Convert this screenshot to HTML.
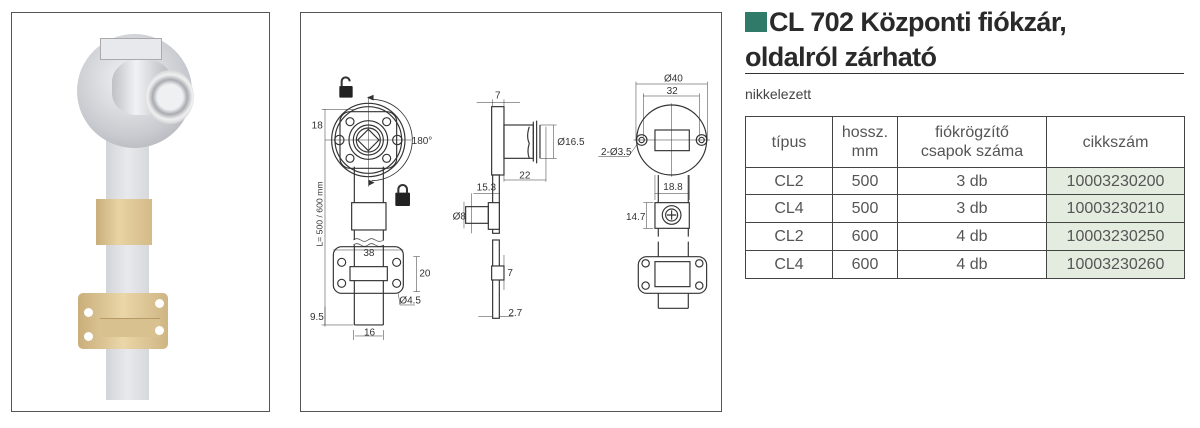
<!DOCTYPE html>
<html><head><meta charset="utf-8"><style>
body{margin:0;width:1200px;height:428px;background:#fff;position:relative;overflow:hidden;font-family:"Liberation Sans",sans-serif;color:#333}
.box{position:absolute;border:1px solid #555;background:#fff}
.abs{position:absolute}
table{border-collapse:collapse;position:absolute;left:745px;top:116px;font-size:16px;color:#555}
td{border:1.5px solid #444;text-align:center;padding:0;line-height:19px}
td.g{background:#e3ecdf}
</style></head><body>
<div class="box" style="left:11px;top:12px;width:257px;height:398px"></div>
<!-- photo -->
<div class="abs" style="left:106px;top:130px;width:43px;height:270px;background:linear-gradient(90deg,#d3d5da,#e8e9ec 50%,#d6d8dc)"></div>
<div class="abs" style="left:77px;top:34px;width:115px;height:114px;border-radius:50%;background:radial-gradient(circle at 45% 40%,#f2f3f5,#c9cbd0 60%,#a4a6ab)"></div>
<div class="abs" style="left:100px;top:38px;width:60px;height:20px;background:#e8e9ec;border:1px solid #aaa"></div>
<div class="abs" style="left:112px;top:60px;width:60px;height:55px;border-radius:40%;background:linear-gradient(90deg,#bfc1c6,#f2f2f4 40%,#b5b7bc)"></div>
<div class="abs" style="left:146px;top:70px;width:48px;height:54px;border-radius:50%;background:radial-gradient(circle,#eef0f2 35%,#a9abb0 48%,#f0f0f0 62%,#9c9ea3)"></div>
<div class="abs" style="left:96px;top:199px;width:56px;height:46px;background:linear-gradient(90deg,#c9ae7a,#e8d3a4 40%,#d4bb88)"></div>
<div class="abs" style="left:78px;top:293px;width:90px;height:56px;border-radius:5px;background:linear-gradient(90deg,#c9ae7a,#ead6a8 50%,#cfb583)"></div>
<div class="abs" style="left:100px;top:318px;width:60px;height:18px;background:#d9c18f;border-top:1px solid #b59a66"></div>
<div class="abs" style="left:84px;top:308px;width:9px;height:9px;border-radius:50%;background:#fff"></div>
<div class="abs" style="left:84px;top:332px;width:9px;height:9px;border-radius:50%;background:#fff"></div>
<div class="abs" style="left:155px;top:299px;width:9px;height:9px;border-radius:50%;background:#fff"></div>
<div class="abs" style="left:155px;top:326px;width:9px;height:9px;border-radius:50%;background:#fff"></div>

<div class="box" style="left:300px;top:12px;width:420px;height:398px"></div>
<svg class="abs" style="left:0;top:0" width="1200" height="428">
<g transform="translate(300,60) scale(0.3333)" fill="none" stroke="#333" stroke-width="3.5" font-family="Liberation Sans,sans-serif" font-size="30">
<!-- left view -->
<circle cx="205" cy="240" r="110"/><circle cx="205" cy="240" r="100"/>
<rect x="120" y="155" width="170" height="170" rx="30"/>
<circle cx="205" cy="240" r="58"/><circle cx="205" cy="240" r="45"/><circle cx="205" cy="240" r="36"/>
<polygon points="205,208 237,240 205,272 173,240"/>
<circle cx="150" cy="185" r="12"/><circle cx="260" cy="185" r="12"/><circle cx="150" cy="295" r="12"/><circle cx="260" cy="295" r="12"/>
<circle cx="118" cy="240" r="14"/><circle cx="292" cy="240" r="14"/>
<path d="M163 320V540M250 320V540M163 555V795M250 555V795M163 795H250"/>
<path d="M160 540q10 -8 22 0t22 0t22 0t26 0M160 555q10 -8 22 0t22 0t22 0t26 0" stroke-width="2"/>
<rect x="155" y="428" width="103" height="82" fill="#fff"/>
<rect x="100" y="560" width="210" height="140" rx="25" fill="#fff"/>
<circle cx="125" cy="607" r="12"/><circle cx="290" cy="607" r="12"/><circle cx="125" cy="670" r="12"/><circle cx="290" cy="670" r="12"/>
<rect x="150" y="620" width="112" height="42" fill="#fff"/>
<path d="M163 560V620M250 560V620M163 662V700M250 662V700"/>
<path d="M205 110V380M75 240H335" stroke-width="1.5"/>
<path d="M75 148V795M65 148H160M65 795H160M75 740V800M160 810V840M250 810V840M165 828H248M100 570H310M350 590V695M340 590H360M340 695H360M295 700L300 735H345" stroke-width="1.5"/>
<path d="M215 118A122 122 0 0 1 215 362" stroke-width="2.5"/>
<path d="M205 113l14 -6v12zM220 368l-12 6v-12z" fill="#333"/>
<g fill="#222" stroke="none"><rect x="118" y="78" width="40" height="35" rx="3"/><rect x="286" y="398" width="44" height="40" rx="3"/></g>
<path d="M125 80v-16a12 12 0 0 1 24 0" stroke-width="6"/>
<path d="M295 400v-12a13 13 0 0 1 26 0v12" stroke-width="6"/>
<g fill="#333" stroke="none">
<text x="35" y="205">18</text><text x="335" y="252">180°</text><text x="190" y="588">38</text><text x="358" y="650">20</text>
<text x="298" y="730">Ø4.5</text><text x="30" y="780">9.5</text><text x="192" y="826">16</text>
<text transform="translate(68,560) rotate(-90)" font-size="26">L= 500 / 600 mm</text>
</g>
<!-- middle view -->
<rect x="575" y="140" width="37" height="205"/>
<rect x="612" y="195" width="88" height="100"/>
<path d="M700 185V305M710 182V310M720 195V295M688 200q-10 30 0 50q-8 25 0 45" />
<path d="M530 128H660M578 118V140M612 118V140M612 300V365M738 200V365M612 360H738M720 195H770M720 295H770M760 195V295M520 400H598M515 400V520M598 345V520" stroke-width="1.5"/>
<rect x="578" y="345" width="20" height="175"/>
<rect x="565" y="428" width="33" height="80" fill="#fff"/>
<rect x="497" y="440" width="68" height="50"/>
<path d="M492 425V505" stroke-width="1.5"/>
<rect x="578" y="540" width="20" height="235"/>
<rect x="575" y="618" width="37" height="42" fill="#fff"/>
<path d="M612 585V690M535 770H578M598 770H640" stroke-width="1.5"/>
<g fill="#333" stroke="none"><text x="585" y="115">7</text><text x="772" y="255">Ø16.5</text><text x="658" y="355">22</text>
<text x="530" y="392">15.3</text><text x="458" y="478">Ø8</text><text x="622" y="648">7</text><text x="625" y="768">2.7</text></g>
<!-- right view -->
<circle cx="1115" cy="240" r="105"/>
<rect x="1065" y="210" width="103" height="62"/>
<circle cx="1025" cy="240" r="16"/><circle cx="1025" cy="240" r="8"/><circle cx="1205" cy="240" r="16"/><circle cx="1205" cy="240" r="8"/>
<path d="M1008 72H1222M1008 65V240M1222 65V240M1030 108H1198M1030 100V230M1198 100V230M1000 240H1230M1115 130V350M1010 255L985 290H895M1065 345V420M1168 345V420M1065 400H1168M1040 428V505M1030 428H1060M1030 505H1060" stroke-width="1.5"/>
<path d="M1075 345V530M1165 345V530M1075 545V745M1165 545V745M1075 745H1165"/>
<rect x="1065" y="428" width="103" height="77" fill="#fff"/>
<circle cx="1115" cy="465" r="28"/><circle cx="1115" cy="465" r="18"/><path d="M1101 465H1129M1115 451V479"/>
<rect x="1015" y="590" width="205" height="110" rx="25" fill="#fff"/>
<rect x="1065" y="605" width="105" height="75"/>
<circle cx="1037" cy="610" r="11"/><circle cx="1198" cy="610" r="11"/><circle cx="1037" cy="677" r="11"/><circle cx="1198" cy="677" r="11"/>
<g fill="#333" stroke="none"><text x="1092" y="65">Ø40</text><text x="1100" y="102">32</text><text x="903" y="285">2-Ø3.5</text>
<text x="1090" y="390">18.8</text><text x="978" y="480">14.7</text></g>
</g></svg>

<div class="abs" style="left:745px;top:12px;width:22px;height:20px;background:#2f7a69"></div>
<div class="abs" style="left:769px;top:6px;font-size:27px;font-weight:bold;letter-spacing:-0.6px;color:#2a2a2a;line-height:32px">CL 702 Központi fiókzár,</div>
<div class="abs" style="left:745px;top:41px;font-size:27px;font-weight:bold;letter-spacing:-0.6px;color:#2a2a2a;line-height:32px">oldalról zárható</div>
<div class="abs" style="left:745px;top:73px;width:439px;height:1px;background:#333"></div>
<div class="abs" style="left:745px;top:86px;font-size:14px;color:#444">nikkelezett</div>
<table>
<tr style="height:51px"><td style="width:86px">típus</td><td style="width:64px">hossz.<br>mm</td><td style="width:148px">fiókrögzítő<br>csapok száma</td><td style="width:137px">cikkszám</td></tr>
<tr style="height:27px"><td>CL2</td><td>500</td><td>3 db</td><td class="g">10003230200</td></tr>
<tr style="height:28px"><td>CL4</td><td>500</td><td>3 db</td><td class="g">10003230210</td></tr>
<tr style="height:28px"><td>CL2</td><td>600</td><td>4 db</td><td class="g">10003230250</td></tr>
<tr style="height:28px"><td>CL4</td><td>600</td><td>4 db</td><td class="g">10003230260</td></tr>
</table>
</body></html>
